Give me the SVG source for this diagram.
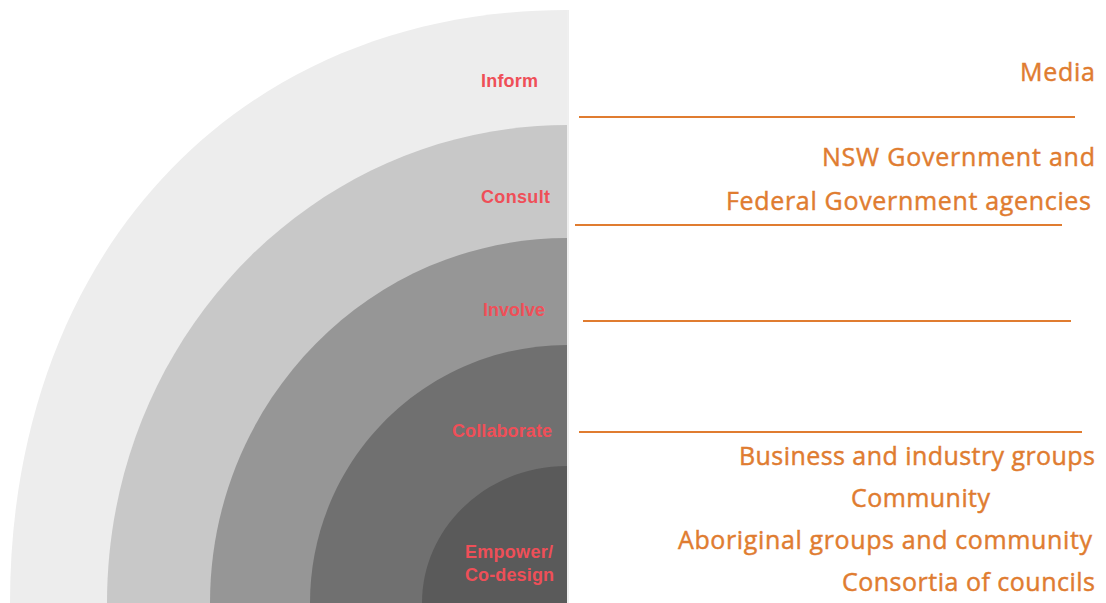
<svg xmlns="http://www.w3.org/2000/svg" width="1106" height="603" viewBox="0 0 1106 603">
  <style>
    .ring-label { font-family: "Liberation Sans", Arial, sans-serif; font-weight: bold; font-size: 18px; fill: #ef4f58; }
    .group-label { font-family: "Open Sans", "Liberation Sans", sans-serif; font-size: 25px; fill: #e07c30; stroke: #e07c30; stroke-width: 0.45; }
    .divider { stroke: #e07c30; stroke-width: 2; fill: none; }
  </style>
  <rect width="1106" height="603" fill="#ffffff"/>

  <!-- Engagement levels: nested quarter shapes, outermost first -->
  <g id="inform">
    <path d="M567,603 L10,603 C10,253.1 238.4,10 567,10 Z" fill="#ededed"/>
    <text class="ring-label" x="481" y="87" textLength="57">Inform</text>
  </g>
  <g id="consult">
    <path d="M567,603 L107,603 C107,339 313,125 567,125 Z" fill="#c8c8c8"/>
    <text class="ring-label" x="481" y="203" textLength="69">Consult</text>
  </g>
  <g id="involve">
    <path d="M567,603 L210,603 C210,401.4 369.8,238 567,238 Z" fill="#969696"/>
    <text class="ring-label" x="483" y="316" textLength="62">Involve</text>
  </g>
  <g id="collaborate">
    <path d="M567,603 L310,603 C310,460.5 425.1,345 567,345 Z" fill="#707070"/>
    <text class="ring-label" x="452" y="437" textLength="100">Collaborate</text>
  </g>
  <g id="empower">
    <path d="M567,603 L422,603 C422,527.3 486.9,466 567,466 Z" fill="#5a5a5a"/>
    <text class="ring-label" x="465" y="558" textLength="88">Empower/</text>
    <text class="ring-label" x="465" y="581" textLength="89">Co-design</text>
  </g>
  <line x1="568" y1="10" x2="568" y2="603" stroke="#dedede" stroke-width="1"/>

  <!-- Separators between stakeholder bands -->
  <g id="connectors">
    <line class="divider" x1="579" y1="117" x2="1075" y2="117"/>
    <line class="divider" x1="575" y1="225" x2="1062" y2="225"/>
    <line class="divider" x1="583" y1="321" x2="1071" y2="321"/>
    <line class="divider" x1="579" y1="432" x2="1082" y2="432"/>
  </g>

  <!-- Stakeholder groups -->
  <g id="media">
    <text class="group-label" x="1020" y="81" textLength="75">Media</text>
  </g>
  <g id="government">
    <text class="group-label" x="822" y="166" textLength="273">NSW Government and</text>
    <text class="group-label" x="726" y="210" textLength="365">Federal Government agencies</text>
  </g>
  <g id="business">
    <text class="group-label" x="739" y="465" textLength="356">Business and industry groups</text>
  </g>
  <g id="community">
    <text class="group-label" x="851" y="507" textLength="139">Community</text>
  </g>
  <g id="aboriginal">
    <text class="group-label" x="678" y="549" textLength="414">Aboriginal groups and community</text>
  </g>
  <g id="consortia">
    <text class="group-label" x="842" y="591" textLength="253">Consortia of councils</text>
  </g>
</svg>
